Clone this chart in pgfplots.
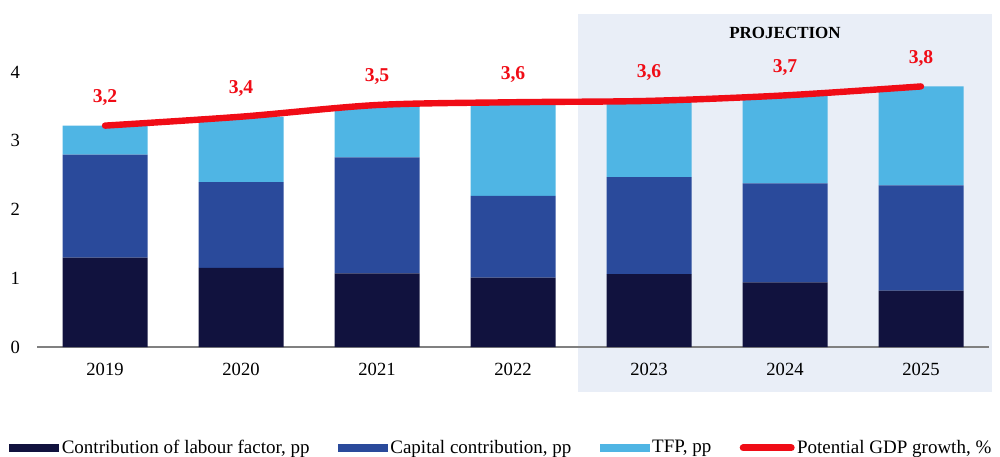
\documentclass[border=0pt]{standalone}
\usepackage{fontspec}
\setmainfont{Liberation Serif}
\usepackage{pgfplots}
\usepackage{pgfplotstable}
\pgfplotsset{compat=1.18}
\definecolor{labourNavy}{RGB}{17,18,62}
\definecolor{capitalBlue}{RGB}{42,74,155}
\definecolor{tfpBlue}{RGB}{79,181,228}
\definecolor{gdpRed}{RGB}{240,12,22}
\definecolor{projShade}{RGB}{233,238,247}
\definecolor{axisGray}{RGB}{128,128,128}

% contributions to potential growth, pp
\pgfplotstableread{
x labour capital tfp
0 1.30 1.50 0.42
1 1.15 1.25 0.95
2 1.07 1.69 0.76
3 1.01 1.19 1.36
4 1.06 1.41 1.11
5 0.94 1.44 1.28
6 0.82 1.53 1.44
}\contrib

% potential GDP growth, %
\pgfplotstableread{
x growth lab
0 3.22 3,2
1 3.35 3,4
2 3.52 3,5
3 3.56 3,6
4 3.58 3,6
5 3.66 3,7
6 3.79 3,8
}\potential

\pgfplotsset{
  baseaxis/.style={
    scale only axis, width=476pt, height=137.5pt,
    xmin=-0.5, xmax=6.5, ymin=0, ymax=4,
    at={(0pt,0pt)}, anchor=south west, clip=false,
  },
}

\begin{document}
\begin{tikzpicture}
\useasboundingbox (-18.5pt,-54.5pt) rectangle (481.5pt,173.5pt);
% projection period shading
\begin{axis}[baseaxis, hide axis]
\fill[projShade] (axis cs:3.478,-0.655) rectangle (axis cs:6.52,4.84);
\end{axis}

\begin{axis}[
    baseaxis,
    ybar stacked,
    bar width=0.625,
    xtick={0,1,2,3,4,5,6},
    xticklabels={2019,2020,2021,2022,2023,2024,2025},
    ytick={0,1,2,3,4},
    major tick length=0pt,
    axis x line*=bottom,
    axis y line*=left,
    x axis line style={draw=axisGray, line width=0.6pt, -},
    y axis line style={draw=none},
    ticklabel style={font=\fontsize{9.3}{11}\selectfont},
    /pgf/number format/assume math mode=true,
    yticklabel style={xshift=-5pt},
    xticklabel style={yshift=-4.5pt},
    legend columns=4,
    legend cell align=left,
    legend style={
        at={(axis description cs:-0.0294,-0.367)}, anchor=west,
        draw=none, fill=none, inner sep=0pt,
        font=\fontsize{9.5}{11}\selectfont,
        nodes={inner sep=1.2pt},
        /tikz/every even column/.append style={column sep=13pt},
    },
]
\addplot[fill=labourNavy, draw=none,
    legend image code/.code={\fill[labourNavy] (0pt,-2pt) rectangle (25pt,2pt);}]
    table[x=x, y=labour] {\contrib};
\addlegendentry{Contribution of labour factor, pp}
\addplot[fill=capitalBlue, draw=none,
    legend image code/.code={\fill[capitalBlue] (0pt,-2pt) rectangle (25pt,2pt);}]
    table[x=x, y=capital] {\contrib};
\addlegendentry{Capital contribution, pp}
\addplot[fill=tfpBlue, draw=none,
    legend image code/.code={\fill[tfpBlue] (0pt,-2pt) rectangle (25pt,2pt);}]
    table[x=x, y=tfp] {\contrib};
\addlegendentry{TFP, pp}
\addlegendimage{legend image code/.code={\draw[gdpRed, line width=3.5pt, line cap=round] (0pt,0pt) -- (24pt,0pt);}}
\addlegendentry{Potential GDP growth, \%}
\end{axis}

\begin{axis}[baseaxis, hide axis]
\addplot[gdpRed, line width=3.2pt, line cap=round, smooth,
    nodes near coords, point meta=explicit symbolic,
    every node near coord/.append style={
        font=\fontsize{9.8}{11}\selectfont\bfseries, text=gdpRed,
        anchor=center, yshift=14pt}]
    table[x=x, y=growth, meta=lab] {\potential};
\node[font=\fontsize{8.5}{10}\selectfont\bfseries, text=black]
    at (axis cs:5.0,4.57) {PROJECTION};
\end{axis}
\end{tikzpicture}
\end{document}
